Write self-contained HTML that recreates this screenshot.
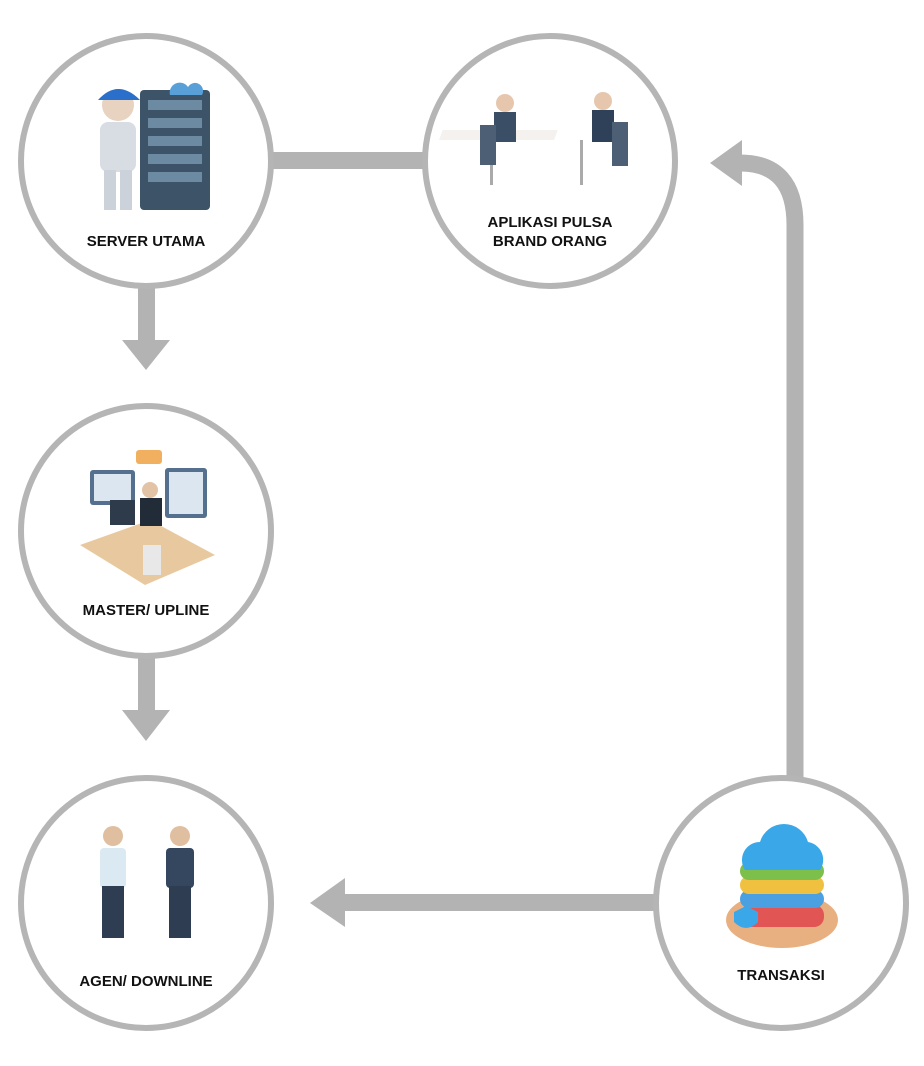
<!DOCTYPE html>
<html><head><meta charset="utf-8"><style>
html,body{margin:0;padding:0;background:#fff;}
body{width:924px;height:1066px;position:relative;overflow:hidden;font-family:"Liberation Sans",Arial,sans-serif;}
.lbl{position:absolute;font-weight:bold;font-size:15px;color:#111;text-align:center;width:240px;line-height:19px;}
</style></head><body>
<svg width="924" height="1066" style="position:absolute;left:0;top:0">
<g fill="#b3b3b3" stroke="none">
<rect x="270" y="152" width="160" height="17"/>
<rect x="138" y="288" width="17" height="56"/>
<polygon points="122,340 170,340 146,370"/>
<rect x="138" y="658" width="17" height="56"/>
<polygon points="122,710 170,710 146,741"/>
<rect x="340" y="894" width="320" height="17"/>
<polygon points="345,878 345,927 310,903"/>
<polygon points="742,140 742,186 710,163"/>
</g>
<path d="M795 780 L795 225 Q795 163 740 163" fill="none" stroke="#b3b3b3" stroke-width="17"/>
<g fill="#fff" stroke="#b5b5b5" stroke-width="6">
<circle cx="146" cy="161" r="125"/>
<circle cx="550" cy="161" r="125"/>
<circle cx="146" cy="531" r="125"/>
<circle cx="146" cy="903" r="125"/>
<circle cx="781" cy="903" r="125"/>
</g>
<!-- server icon -->
<rect x="140" y="90" width="70" height="120" rx="4" fill="#3c5368"/>
<g fill="#6d8aa3"><rect x="148" y="100" width="54" height="10"/><rect x="148" y="118" width="54" height="10"/><rect x="148" y="136" width="54" height="10"/><rect x="148" y="154" width="54" height="10"/><rect x="148" y="172" width="54" height="10"/></g>
<circle cx="118" cy="105" r="16" fill="#e8d2c0"/><path d="M98 100 Q118 78 140 100 Z" fill="#2a6fc9"/>
<rect x="100" y="122" width="36" height="50" rx="8" fill="#d8dde4"/><rect x="104" y="170" width="12" height="40" fill="#ccd2da"/><rect x="120" y="170" width="12" height="40" fill="#ccd2da"/>
<path d="M170 95 a10 10 0 0 1 18 -8 a8 8 0 0 1 14 8 z" fill="#5aa0d8"/>
<!-- meeting icon -->
<rect x="490" y="130" width="115" height="10" fill="#f4f1ee" transform="skewX(-20)"/>
<rect x="490" y="140" width="3" height="45" fill="#aaa"/><rect x="580" y="140" width="3" height="45" fill="#aaa"/>
<circle cx="505" cy="103" r="9" fill="#e6c7ad"/><rect x="494" y="112" width="22" height="30" fill="#3a4f66"/><rect x="480" y="125" width="16" height="40" fill="#4c5f74"/>
<circle cx="603" cy="101" r="9" fill="#e6c7ad"/><rect x="592" y="110" width="22" height="32" fill="#2f4158"/><rect x="612" y="122" width="16" height="44" fill="#4c5f74"/>
<!-- master icon -->
<polygon points="80,545 150,520 215,555 145,585" fill="#e8c99f"/>
<rect x="90" y="470" width="45" height="35" rx="3" fill="#55708f"/><rect x="94" y="474" width="37" height="27" fill="#dce6f0"/>
<rect x="165" y="468" width="42" height="50" rx="3" fill="#55708f"/><rect x="169" y="472" width="34" height="42" fill="#dce6f0"/>
<rect x="136" y="450" width="26" height="14" rx="3" fill="#f0b060"/>
<circle cx="150" cy="490" r="8" fill="#e2c3a6"/><rect x="140" y="498" width="22" height="28" fill="#222c38"/>
<rect x="110" y="500" width="25" height="25" fill="#2d3b4b"/><rect x="143" y="545" width="18" height="30" fill="#e8e8e8"/>
<!-- agents -->
<circle cx="113" cy="836" r="10" fill="#e0bfa0"/><rect x="100" y="848" width="26" height="40" rx="4" fill="#dbe9f3"/><rect x="102" y="886" width="22" height="52" fill="#2e3d52"/>
<circle cx="180" cy="836" r="10" fill="#e0bfa0"/><rect x="166" y="848" width="28" height="40" rx="4" fill="#34475f"/><rect x="169" y="886" width="22" height="52" fill="#2e3d52"/>
<!-- transaksi -->
<ellipse cx="782" cy="920" rx="56" ry="28" fill="#e8b080"/>
<rect x="740" y="905" width="84" height="22" rx="10" fill="#e25555"/>
<rect x="740" y="890" width="84" height="18" rx="9" fill="#4aa0e0"/>
<rect x="740" y="876" width="84" height="18" rx="9" fill="#f0c040"/>
<rect x="740" y="862" width="84" height="18" rx="9" fill="#7cbf4a"/>
<path d="M745 870 a18 18 0 0 1 15 -28 a25 25 0 0 1 48 0 a18 18 0 0 1 12 28 z" fill="#3aa8e8"/>
<path d="M734 912 l12 -6 l12 6 l0 10 q-12 12 -24 0z" fill="#3aa8e8"/>
</svg>
<div class="lbl" style="left:26px;top:232px">SERVER UTAMA</div>
<div class="lbl" style="left:430px;top:213px">APLIKASI PULSA<br>BRAND ORANG</div>
<div class="lbl" style="left:26px;top:601px">MASTER/ UPLINE</div>
<div class="lbl" style="left:26px;top:972px">AGEN/ DOWNLINE</div>
<div class="lbl" style="left:661px;top:966px">TRANSAKSI</div>
</body></html>
